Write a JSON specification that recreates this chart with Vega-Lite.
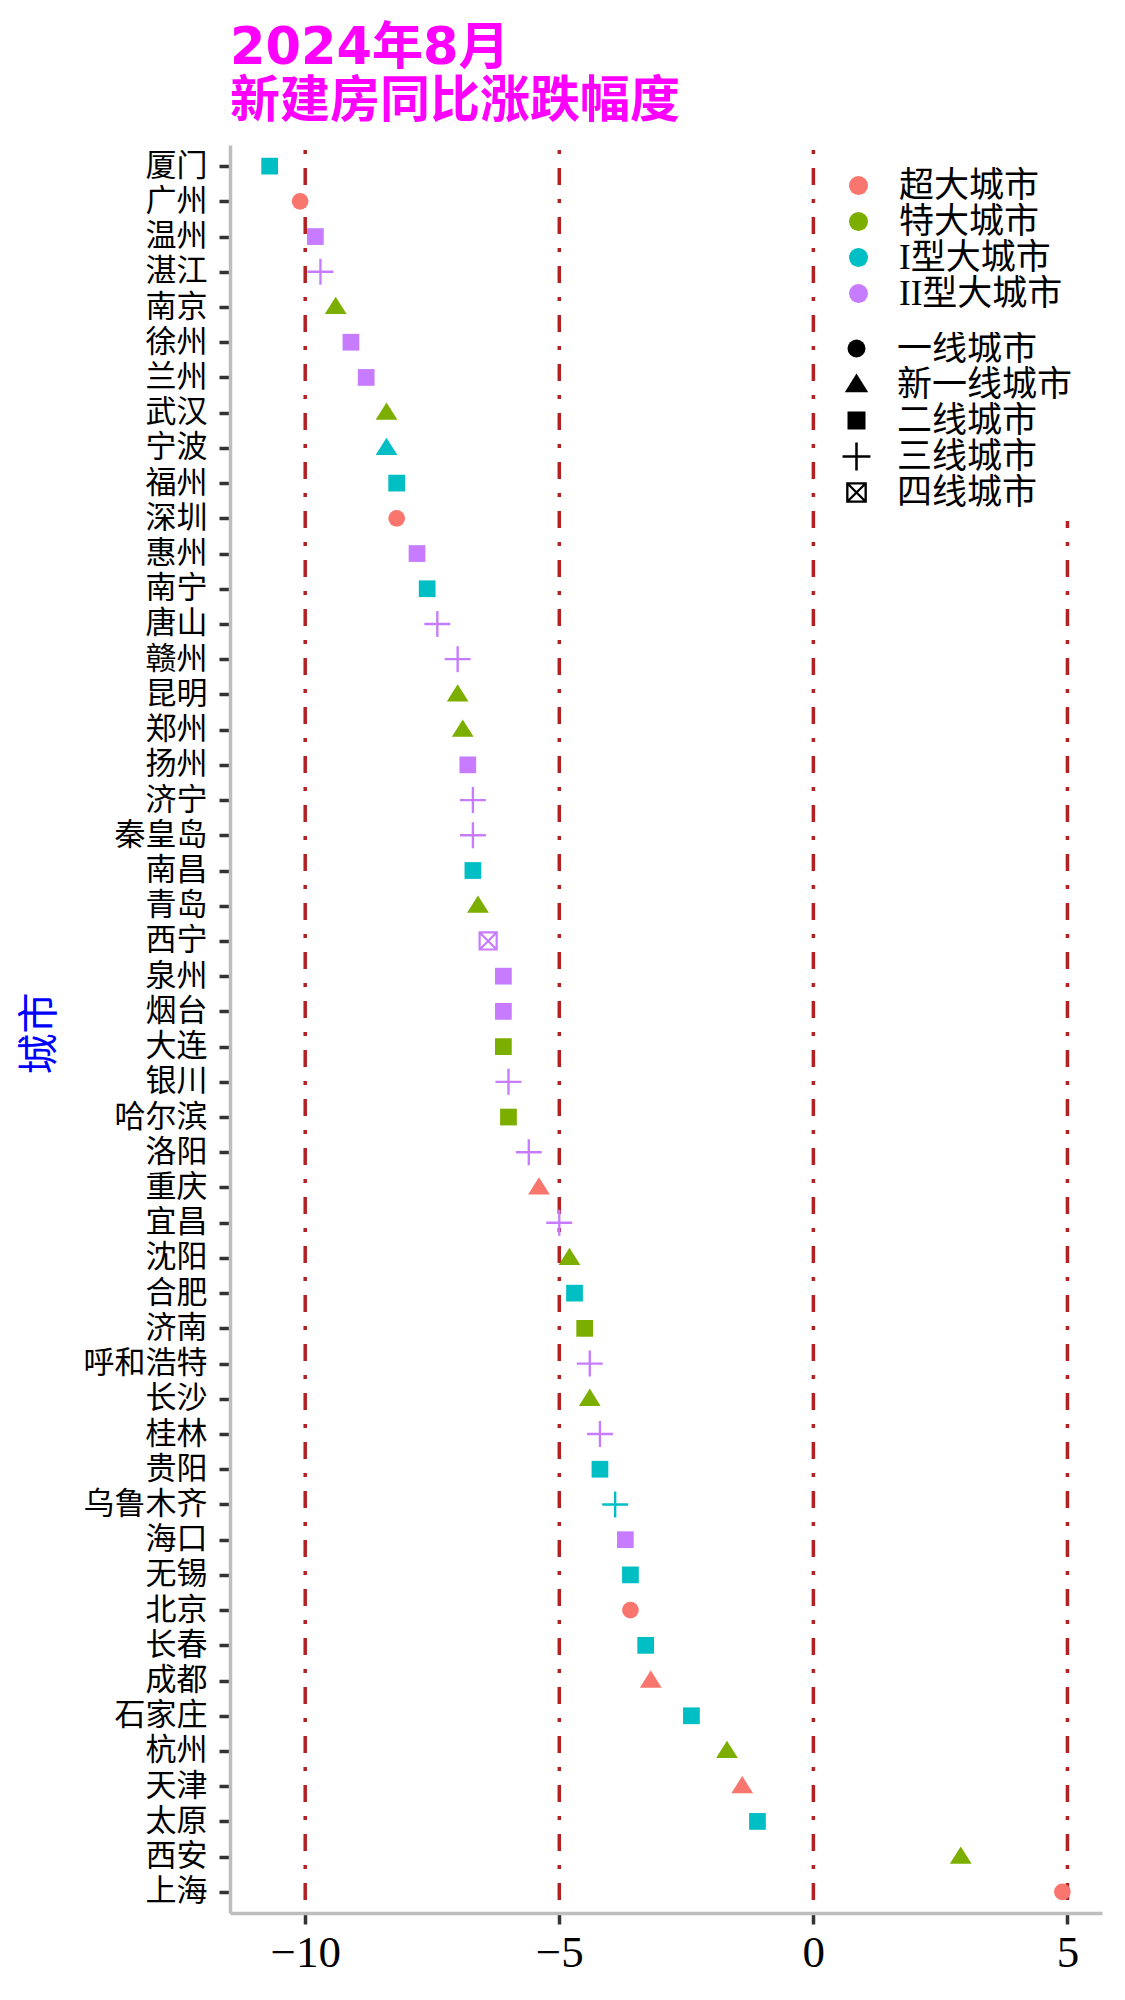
{
  "$schema": "https://vega.github.io/schema/vega-lite/v6.json",
  "width": 872,
  "height": 1768,
  "autosize": {"type": "none"},
  "padding": {"left": 230, "top": 145, "right": 23, "bottom": 87},
  "background": "white",
  "config": {
    "view": {"stroke": null},
    "axis": {"grid": false}
  },
  "title": {
    "text": "2024年8月",
    "subtitle": "新建房同比涨跌幅度",
    "anchor": "start",
    "frame": "group",
    "font": "DejaVu Sans, Noto Sans CJK SC",
    "fontSize": 51,
    "fontWeight": "bold",
    "color": "#FF00FF",
    "subtitleFont": "Noto Sans CJK SC",
    "subtitleFontSize": 50,
    "subtitleFontWeight": "bold",
    "subtitleColor": "#FF00FF",
    "subtitlePadding": 2,
    "offset": 15
  },
  "datasets": {
    "refs": [{"v": -10}, {"v": -5}, {"v": 0}, {"v": 5}],
    "cities": [
      {"city": "厦门", "value": -10.7, "size_class": "I型大城市", "tier": "二线城市"},
      {"city": "广州", "value": -10.1, "size_class": "超大城市", "tier": "一线城市"},
      {"city": "温州", "value": -9.8, "size_class": "II型大城市", "tier": "二线城市"},
      {"city": "湛江", "value": -9.7, "size_class": "II型大城市", "tier": "三线城市"},
      {"city": "南京", "value": -9.4, "size_class": "特大城市", "tier": "新一线城市"},
      {"city": "徐州", "value": -9.1, "size_class": "II型大城市", "tier": "二线城市"},
      {"city": "兰州", "value": -8.8, "size_class": "II型大城市", "tier": "二线城市"},
      {"city": "武汉", "value": -8.4, "size_class": "特大城市", "tier": "新一线城市"},
      {"city": "宁波", "value": -8.4, "size_class": "I型大城市", "tier": "新一线城市"},
      {"city": "福州", "value": -8.2, "size_class": "I型大城市", "tier": "二线城市"},
      {"city": "深圳", "value": -8.2, "size_class": "超大城市", "tier": "一线城市"},
      {"city": "惠州", "value": -7.8, "size_class": "II型大城市", "tier": "二线城市"},
      {"city": "南宁", "value": -7.6, "size_class": "I型大城市", "tier": "二线城市"},
      {"city": "唐山", "value": -7.4, "size_class": "II型大城市", "tier": "三线城市"},
      {"city": "赣州", "value": -7.0, "size_class": "II型大城市", "tier": "三线城市"},
      {"city": "昆明", "value": -7.0, "size_class": "特大城市", "tier": "新一线城市"},
      {"city": "郑州", "value": -6.9, "size_class": "特大城市", "tier": "新一线城市"},
      {"city": "扬州", "value": -6.8, "size_class": "II型大城市", "tier": "二线城市"},
      {"city": "济宁", "value": -6.7, "size_class": "II型大城市", "tier": "三线城市"},
      {"city": "秦皇岛", "value": -6.7, "size_class": "II型大城市", "tier": "三线城市"},
      {"city": "南昌", "value": -6.7, "size_class": "I型大城市", "tier": "二线城市"},
      {"city": "青岛", "value": -6.6, "size_class": "特大城市", "tier": "新一线城市"},
      {"city": "西宁", "value": -6.4, "size_class": "II型大城市", "tier": "四线城市"},
      {"city": "泉州", "value": -6.1, "size_class": "II型大城市", "tier": "二线城市"},
      {"city": "烟台", "value": -6.1, "size_class": "II型大城市", "tier": "二线城市"},
      {"city": "大连", "value": -6.1, "size_class": "特大城市", "tier": "二线城市"},
      {"city": "银川", "value": -6.0, "size_class": "II型大城市", "tier": "三线城市"},
      {"city": "哈尔滨", "value": -6.0, "size_class": "特大城市", "tier": "二线城市"},
      {"city": "洛阳", "value": -5.6, "size_class": "II型大城市", "tier": "三线城市"},
      {"city": "重庆", "value": -5.4, "size_class": "超大城市", "tier": "新一线城市"},
      {"city": "宜昌", "value": -5.0, "size_class": "II型大城市", "tier": "三线城市"},
      {"city": "沈阳", "value": -4.8, "size_class": "特大城市", "tier": "新一线城市"},
      {"city": "合肥", "value": -4.7, "size_class": "I型大城市", "tier": "二线城市"},
      {"city": "济南", "value": -4.5, "size_class": "特大城市", "tier": "二线城市"},
      {"city": "呼和浩特", "value": -4.4, "size_class": "II型大城市", "tier": "三线城市"},
      {"city": "长沙", "value": -4.4, "size_class": "特大城市", "tier": "新一线城市"},
      {"city": "桂林", "value": -4.2, "size_class": "II型大城市", "tier": "三线城市"},
      {"city": "贵阳", "value": -4.2, "size_class": "I型大城市", "tier": "二线城市"},
      {"city": "乌鲁木齐", "value": -3.9, "size_class": "I型大城市", "tier": "三线城市"},
      {"city": "海口", "value": -3.7, "size_class": "II型大城市", "tier": "二线城市"},
      {"city": "无锡", "value": -3.6, "size_class": "I型大城市", "tier": "二线城市"},
      {"city": "北京", "value": -3.6, "size_class": "超大城市", "tier": "一线城市"},
      {"city": "长春", "value": -3.3, "size_class": "I型大城市", "tier": "二线城市"},
      {"city": "成都", "value": -3.2, "size_class": "超大城市", "tier": "新一线城市"},
      {"city": "石家庄", "value": -2.4, "size_class": "I型大城市", "tier": "二线城市"},
      {"city": "杭州", "value": -1.7, "size_class": "特大城市", "tier": "新一线城市"},
      {"city": "天津", "value": -1.4, "size_class": "超大城市", "tier": "新一线城市"},
      {"city": "太原", "value": -1.1, "size_class": "I型大城市", "tier": "二线城市"},
      {"city": "西安", "value": 2.9, "size_class": "特大城市", "tier": "新一线城市"},
      {"city": "上海", "value": 4.9, "size_class": "超大城市", "tier": "一线城市"}
    ]
  },
  "layer": [
    {
      "data": {"name": "refs"},
      "mark": {"type": "rule", "color": "#B22222", "strokeWidth": 3.5, "strokeDash": [17, 14, 4, 14], "strokeDashOffset": 26},
      "encoding": {
        "x": {"field": "v", "type": "quantitative", "scale": {"domain": [-11.48, 5.68], "nice": false, "zero": false}}
      }
    },
    {
      "data": {"name": "cities"},
      "mark": {"type": "point", "filled": true, "opacity": 1, "strokeWidth": 0, "size": 280},
      "encoding": {
        "x": {
          "field": "value", "type": "quantitative",
          "scale": {"domain": [-11.48, 5.68], "nice": false, "zero": false},
          "axis": {
            "title": null, "values": [-10, -5, 0, 5], "grid": false,
            "domainColor": "#BEBEBE", "domainWidth": 3.5,
            "tickColor": "#333333", "tickWidth": 3.5, "tickSize": 11,
            "labelFont": "Liberation Serif", "labelFontSize": 45, "labelColor": "black", "labelPadding": 6
          }
        },
        "y": {
          "field": "city", "type": "nominal", "sort": null,
          "scale": {"type": "point", "padding": 0.6},
          "axis": {
            "title": "城市", "titleColor": "#0000FF", "titleFont": "Noto Sans CJK SC", "titleFontSize": 41, "titleFontWeight": "normal",
            "titleX": -190, "titleY": 888, "titleAngle": -90, "titleAlign": "center", "titleBaseline": "middle",
            "domainColor": "#BEBEBE", "domainWidth": 3.5,
            "tickColor": "#333333", "tickWidth": 3.5, "tickSize": 11,
            "labelFont": "Noto Sans CJK SC", "labelFontSize": 31, "labelColor": "black", "labelPadding": 12
          }
        },
        "fill": {
          "field": "size_class", "type": "nominal",
          "scale": {"domain": ["超大城市", "特大城市", "I型大城市", "II型大城市"], "range": ["#F8766D", "#7CAE00", "#00BFC4", "#C77CFF"]},
          "legend": {
            "title": null, "orient": "none", "legendX": 591, "legendY": 3,
            "fillColor": "white", "padding": 20,
            "symbolType": "circle", "symbolSize": 361, "symbolStrokeWidth": 0,
            "labelFont": "Liberation Serif, Noto Sans CJK SC", "labelFontSize": 35, "labelColor": "black",
            "labelOffset": 23, "rowPadding": 0, "labelLimit": 400
          }
        },
        "shape": {
          "field": "tier", "type": "nominal",
          "scale": {
            "domain": ["一线城市", "新一线城市", "二线城市", "三线城市", "四线城市"],
            "range": [
              "circle",
              "M0,-1.22L1.3,0.85L-1.3,0.85Z",
              "square",
              "M-1.55,-0.14H-0.14V-1.55H0.14V-0.14H1.55V0.14H0.14V1.55H-0.14V0.14H-1.55Z",
              "M-1.15,-1.15H1.15V1.15H-1.15ZM-0.89,-0.89V0.89H0.89V-0.89ZM-0.798,-0.982L0.982,0.798L0.798,0.982L-0.982,-0.798ZM0.982,-0.798L-0.798,0.982L-0.982,0.798L0.798,-0.982Z"
            ]
          },
          "legend": {
            "title": null, "orient": "none", "legendX": 599, "legendY": 176,
            "fillColor": "white", "padding": 10,
            "symbolSize": 324, "symbolFillColor": "black", "symbolStrokeWidth": 0, "symbolOpacity": 1,
            "labelFont": "Noto Sans CJK SC", "labelFontSize": 35, "labelColor": "black",
            "labelOffset": 23, "rowPadding": 0, "labelLimit": 400
          }
        }
      }
    }
  ]
}
